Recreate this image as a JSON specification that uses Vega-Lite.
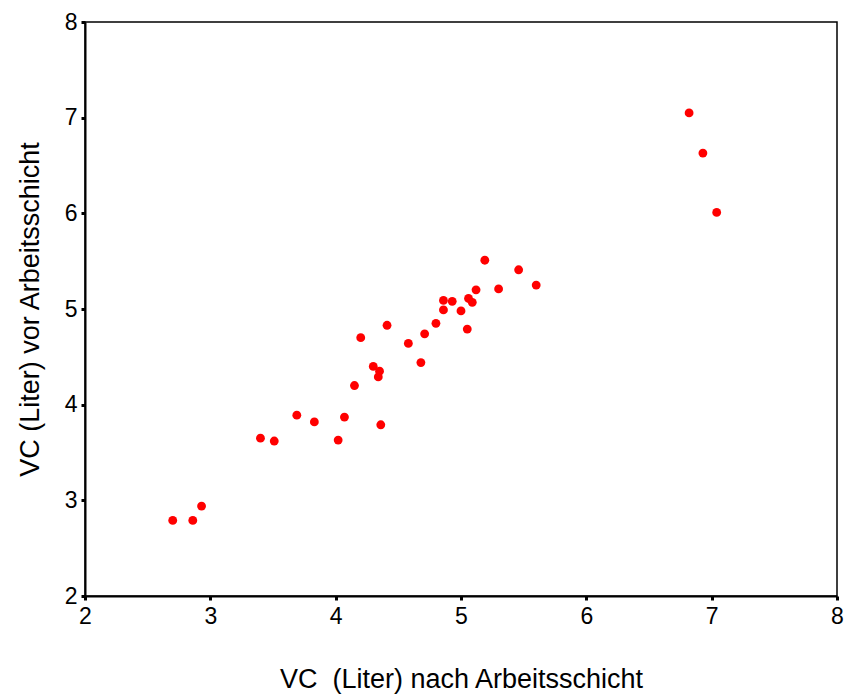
{
  "$schema": "https://vega.github.io/schema/vega-lite/v6.json",
  "width": 752,
  "height": 574,
  "autosize": {"type": "none"},
  "padding": {"left": 85, "top": 22, "right": 8, "bottom": 104},
  "background": "white",
  "config": {
    "view": {"stroke": "#000000", "strokeWidth": 1.5},
    "font": "Liberation Sans",
    "axis": {
      "grid": false,
      "domainColor": "#000000",
      "domainWidth": 2,
      "tickColor": "#000000",
      "tickSize": 4,
      "tickWidth": 3,
      "labelFont": "Liberation Sans",
      "labelColor": "#000000",
      "labelFlush": false,
      "labelOverlap": false,
      "titleFont": "Liberation Sans",
      "titleFontSize": 27,
      "titleFontWeight": "normal",
      "titleColor": "#000000"
    }
  },
  "data": {
    "values": [
      {"nach": 2.70, "vor": 2.79},
      {"nach": 2.86, "vor": 2.79},
      {"nach": 2.93, "vor": 2.94},
      {"nach": 3.40, "vor": 3.65},
      {"nach": 3.51, "vor": 3.62},
      {"nach": 3.69, "vor": 3.89},
      {"nach": 3.83, "vor": 3.82},
      {"nach": 4.02, "vor": 3.63},
      {"nach": 4.07, "vor": 3.87},
      {"nach": 4.36, "vor": 3.79},
      {"nach": 4.15, "vor": 4.20},
      {"nach": 4.30, "vor": 4.40},
      {"nach": 4.35, "vor": 4.35},
      {"nach": 4.34, "vor": 4.29},
      {"nach": 4.20, "vor": 4.70},
      {"nach": 4.41, "vor": 4.83},
      {"nach": 4.58, "vor": 4.64},
      {"nach": 4.68, "vor": 4.44},
      {"nach": 4.71, "vor": 4.74},
      {"nach": 4.80, "vor": 4.85},
      {"nach": 4.86, "vor": 4.99},
      {"nach": 4.86, "vor": 5.09},
      {"nach": 4.93, "vor": 5.08},
      {"nach": 5.00, "vor": 4.98},
      {"nach": 5.05, "vor": 4.79},
      {"nach": 5.06, "vor": 5.11},
      {"nach": 5.09, "vor": 5.07},
      {"nach": 5.12, "vor": 5.20},
      {"nach": 5.19, "vor": 5.51},
      {"nach": 5.30, "vor": 5.21},
      {"nach": 5.46, "vor": 5.41},
      {"nach": 5.60, "vor": 5.25},
      {"nach": 6.82, "vor": 7.05},
      {"nach": 6.93, "vor": 6.63},
      {"nach": 7.04, "vor": 6.01}
    ]
  },
  "mark": {"type": "point", "shape": "circle", "filled": true, "size": 78, "color": "#ff0000", "opacity": 1},
  "encoding": {
    "x": {
      "field": "nach",
      "type": "quantitative",
      "scale": {"domain": [2, 8], "nice": false, "zero": false},
      "axis": {"values": [2, 3, 4, 5, 6, 7, 8], "format": "d", "labelFontSize": 23, "labelPadding": 5, "title": "VC \u00a0(Liter) nach Arbeitsschicht", "titlePadding": 38}
    },
    "y": {
      "field": "vor",
      "type": "quantitative",
      "scale": {"domain": [2, 8], "nice": false, "zero": false},
      "axis": {"values": [2, 3, 4, 5, 6, 7, 8], "format": "d", "labelFontSize": 23, "labelPadding": 4, "title": "VC (Liter) vor Arbeitsschicht", "titlePadding": 20}
    }
  }
}
